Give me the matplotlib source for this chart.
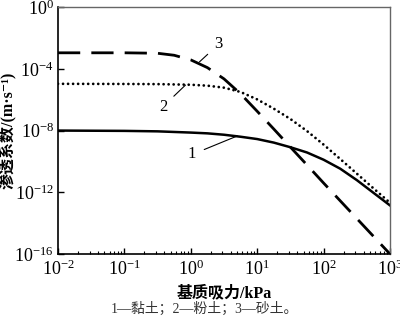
import numpy as np
import matplotlib
matplotlib.use("Agg")
import matplotlib.pyplot as plt
from matplotlib.ticker import LogLocator, LogFormatterMathtext, NullLocator, NullFormatter

plt.rcParams['font.family'] = ['Liberation Serif', 'Noto Sans CJK SC', 'DejaVu Serif']
plt.rcParams['mathtext.fontset'] = 'custom'
plt.rcParams['mathtext.rm'] = 'Liberation Serif'
plt.rcParams['mathtext.it'] = 'Liberation Serif:italic'

# matric suction, log10(kPa)
log_suction = [-2.0, -1.0, -0.5, -0.25, 0.0, 0.25, 0.5, 0.75, 1.0,
               1.25, 1.5, 1.75, 2.0, 2.25, 2.5, 2.75, 3.0]

# permeability coefficient, log10(m/s)
log_k_clay = [-8.0, -8.02, -8.05, -8.09, -8.13, -8.18, -8.27, -8.4, -8.55,
              -8.78, -9.08, -9.42, -9.89, -10.47, -11.21, -12.03, -12.85]
log_k_silt = [-4.97, -4.98, -4.99, -5.01, -5.03, -5.09, -5.22, -5.5, -5.98,
              -6.58, -7.25, -8.03, -8.91, -9.84, -10.79, -11.74, -12.68]
log_k_sand = [-2.96, -2.96, -2.99, -3.12, -3.42, -3.92, -4.65, -5.62, -6.75,
              -7.9, -9.07, -10.23, -11.4, -12.55, -13.7, -14.85, -16.0]

curve_labels = ['1', '2', '3']
caption = '1—黏土；2—粉土；3—砂土。'

suction = 10.0 ** np.array(log_suction)
k_clay = 10.0 ** np.array(log_k_clay)
k_silt = 10.0 ** np.array(log_k_silt)
k_sand = 10.0 ** np.array(log_k_sand)

fig = plt.figure(figsize=(4.0, 3.24), dpi=100)
ax = fig.add_axes([0.145, 0.216, 0.83, 0.762])

ax.plot(suction, k_clay, color='black', lw=1.8, solid_joinstyle='round')
ax.plot(suction, k_silt, color='black', lw=2.0, linestyle=(0, (0.01, 1.8)),
        dash_capstyle='round')
ax.plot(suction, k_sand, color='black', lw=2.0, linestyle=(0, (8, 4)),
        dash_capstyle='butt')

ax.set_xscale('log')
ax.set_yscale('log')
ax.set_xlim(1e-2, 1e3)
ax.set_ylim(1e-16, 1e0)

ax.xaxis.set_major_locator(LogLocator(base=10, numticks=10))
ax.xaxis.set_minor_locator(LogLocator(base=10, subs=np.arange(2, 10), numticks=10))
ax.xaxis.set_minor_formatter(NullFormatter())
ax.yaxis.set_major_locator(LogLocator(base=10000, numticks=10))
ax.yaxis.set_minor_locator(NullLocator())
ax.yaxis.set_major_formatter(LogFormatterMathtext(base=10))

ax.tick_params(axis='both', which='major', direction='in', length=4, width=1,
               labelsize=13, top=False, right=False)
ax.tick_params(axis='x', which='major', pad=4)
ax.tick_params(axis='y', which='major', pad=3)
ax.tick_params(axis='x', which='minor', direction='in', length=2.5, width=0.8,
               top=False)

for side in ('left', 'bottom'):
    ax.spines[side].set_linewidth(1.2)
    ax.spines[side].set_color('black')
for side in ('top', 'right'):
    ax.spines[side].set_linewidth(1.0)
    ax.spines[side].set_color('#666666')

ax.set_xlabel('基质吸力/kPa', fontsize=11.5, fontweight='bold')
ax.xaxis.set_label_coords(0.5, -0.125)
ax.set_ylabel('渗透系数/(m·s⁻¹)', fontsize=11.5, fontweight='bold')
ax.yaxis.set_label_coords(-0.125, 0.5)

# curve callouts with leader lines
callouts = [
    (curve_labels[0], (10 ** 0.70, 10 ** -8.35), (10 ** 0.02, 10 ** -9.55)),
    (curve_labels[1], (10 ** -0.08, 10 ** -5.05), (10 ** -0.42, 10 ** -6.45)),
    (curve_labels[2], (10 ** 0.13, 10 ** -3.55), (10 ** 0.42, 10 ** -2.4)),
]
for text, tip, pos in callouts:
    ax.annotate(text, xy=tip, xytext=pos, fontsize=12, ha='center', va='center',
                arrowprops=dict(arrowstyle='-', lw=0.8, color='black',
                                shrinkA=4, shrinkB=0))

fig.text(0.51, 0.045, caption, ha='center', va='center', fontsize=10,
         color='#333333')

fig.savefig('out.png', dpi=100)
